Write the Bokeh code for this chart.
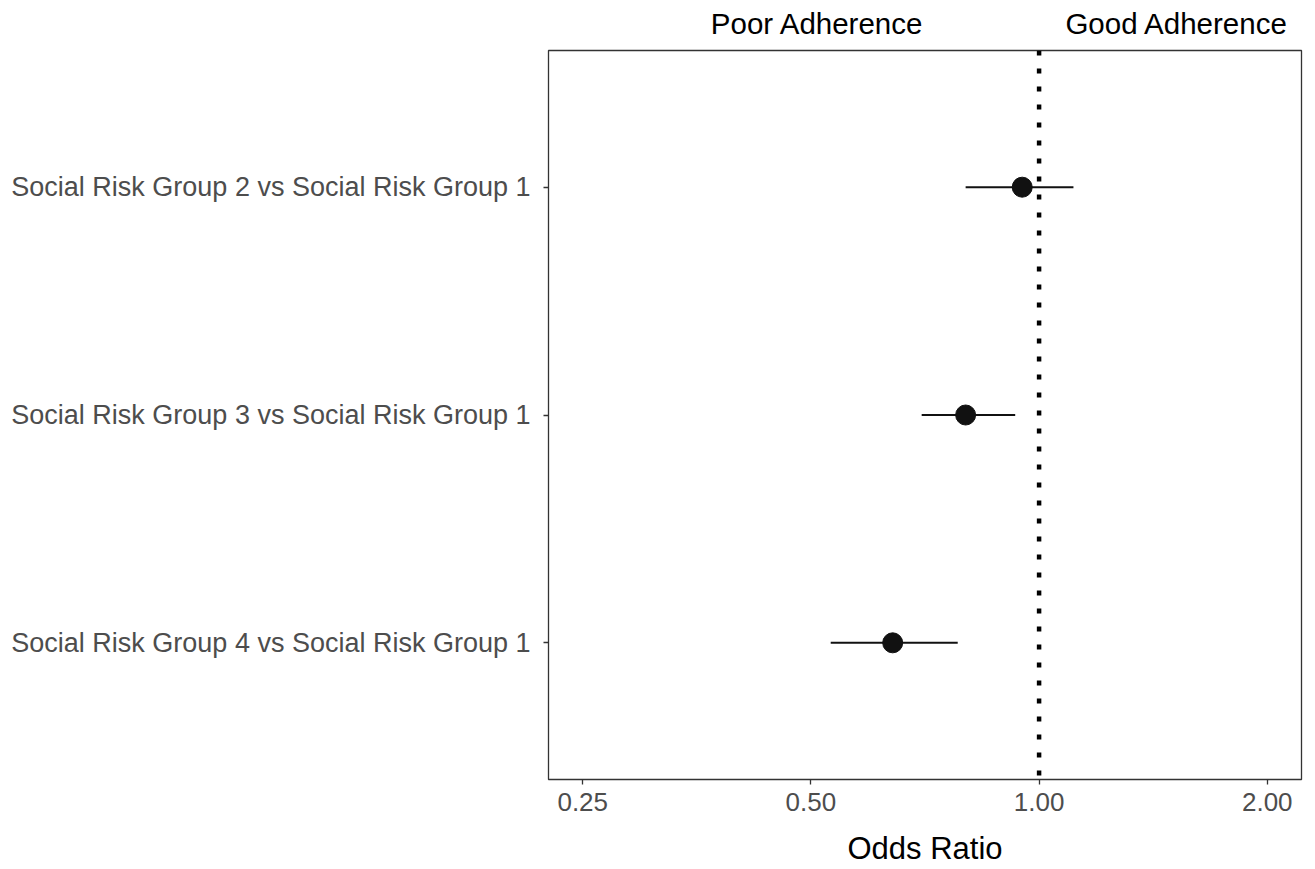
from bokeh.plotting import figure
from bokeh.models import (FactorRange, Range1d, FixedTicker, NumeralTickFormatter,
                          Span, LogAxis, CustomJSTickFormatter, ColumnDataSource)
from bokeh.embed import file_html
from bokeh.resources import INLINE

# ---- data ----
comparisons = [
    "Social Risk Group 2 vs Social Risk Group 1",
    "Social Risk Group 3 vs Social Risk Group 1",
    "Social Risk Group 4 vs Social Risk Group 1",
]
odds_ratio = [0.95, 0.80, 0.641]
ci_low = [0.80, 0.70, 0.531]
ci_high = [1.11, 0.93, 0.781]
x_ticks = [0.25, 0.5, 1.0, 2.0]
x_limits = [0.25, 2.0]
ref_line = 1.0
direction_labels = ["Poor Adherence", "Good Adherence"]
direction_pos = [0.51, 1.52]

FONT = "Liberation Sans"

expand = 2 ** 0.15
x_range = Range1d(x_limits[0] / expand, x_limits[1] * expand)
y_range = FactorRange(factors=list(reversed(comparisons)),
                      range_padding=0.1, range_padding_units="absolute")

p = figure(x_axis_type="log", x_range=x_range, y_range=y_range,
           frame_width=753, frame_height=729,
           min_border_left=548, min_border_top=50, min_border_right=6,
           min_border_bottom=40,
           output_backend="svg", toolbar_location=None)

p.xgrid.visible = False
p.ygrid.visible = False
p.outline_line_color = "#333333"
p.outline_line_width = 1.3
p.background_fill_color = "white"
p.border_fill_color = "white"

src = ColumnDataSource(dict(y=comparisons, est=odds_ratio, lo=ci_low, hi=ci_high))

p.add_layout(Span(location=ref_line, dimension="height", line_color="black",
                  line_width=4.5, line_dash="5 13"))

p.segment(x0="lo", y0="y", x1="hi", y1="y", source=src,
          line_color="#111111", line_width=2)
p.scatter(x="est", y="y", source=src, size=20, fill_color="#111111",
          line_color="#111111")

# x axis
xa = p.xaxis[0]
xa.ticker = FixedTicker(ticks=x_ticks, minor_ticks=[])
xa.formatter = NumeralTickFormatter(format="0.00")
xa.axis_label = "Odds Ratio"
xa.axis_label_text_font = FONT
xa.axis_label_text_font_size = "31px"
xa.axis_label_text_font_style = "normal"
xa.axis_label_text_color = "black"
xa.axis_label_standoff = 17
xa.major_label_text_font = FONT
xa.major_label_text_font_size = "26px"
xa.major_label_text_color = "#4D4D4D"
xa.major_label_standoff = 8
xa.axis_line_color = None
xa.major_tick_line_color = "#333333"
xa.major_tick_line_width = 1.3
xa.major_tick_out = 5
xa.major_tick_in = 0
xa.minor_tick_line_color = None

# y axis
ya = p.yaxis[0]
ya.major_label_text_font = FONT
ya.major_label_text_font_size = "27px"
ya.major_label_text_color = "#4D4D4D"
ya.major_label_standoff = 13
ya.axis_line_color = None
ya.major_tick_line_color = "#333333"
ya.major_tick_line_width = 1.3
ya.major_tick_out = 5
ya.major_tick_in = 0
ya.minor_tick_line_color = None

# direction labels above the panel, as a tick-less top axis
names_js = "[" + ",".join('"%s"' % s for s in direction_labels) + "]"
top = LogAxis(ticker=FixedTicker(ticks=direction_pos, minor_ticks=[]),
              formatter=CustomJSTickFormatter(
                  code="const n = %s; return tick < 1 ? n[0] : n[1];" % names_js),
              axis_line_color=None, major_tick_line_color=None,
              minor_tick_line_color=None,
              major_label_text_font=FONT, major_label_text_font_size="29.5px",
              major_label_text_color="black", major_label_standoff=5)
p.add_layout(top, "above")

open("out.html", "w").write(file_html(p, INLINE))
